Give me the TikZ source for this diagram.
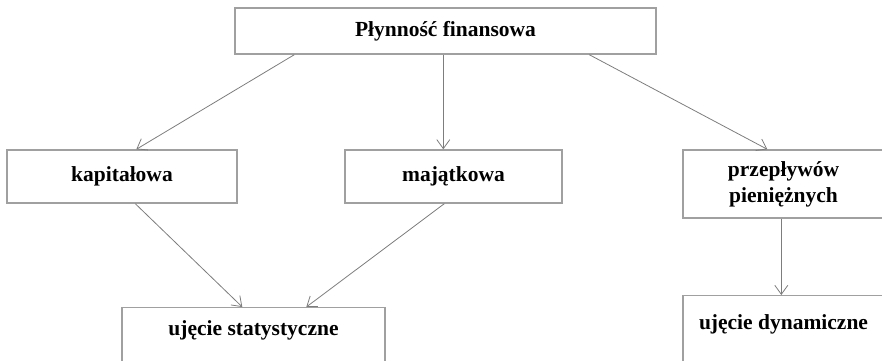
\documentclass[tikz,border=0pt]{standalone}
\usepackage{fontspec}
\setmainfont{Liberation Serif}
\usetikzlibrary{arrows.meta,positioning}
\definecolor{boxgray}{RGB}{160,160,160}
\definecolor{linkgray}{RGB}{125,125,125}

\begin{document}
\begin{tikzpicture}[
  x=1pt,y=-1pt,
  box/.style={draw=boxgray,line width=1.4pt,inner sep=0pt,
    align=center,font=\fontsize{21.5}{26}\selectfont\bfseries},
  link/.style={-{Straight Barb[length=9pt,width=13pt]},draw=linkgray,
    line width=.8pt}]
\useasboundingbox (0,0) rectangle (882,360);
\node[box,minimum width=421pt,minimum height=46pt] (plyn) at (445.5,31) {Płynność finansowa};
\node[box,minimum width=230pt,minimum height=53pt] (kapit) at (122,176.5) {kapitałowa};
\node[box,minimum width=217pt,minimum height=53pt] (majat) at (453.5,176.5) {majątkowa};
\node[box,minimum width=201pt,minimum height=68pt] (przep) at (783.5,184) {przepływów\\pieniężnych};
\node[box,minimum width=263pt,anchor=north,text height=22pt,text depth=40pt,
  inner ysep=6pt] (statyk) at (253.5,307) {ujęcie statystyczne};
\node[box,minimum width=201pt,anchor=north,text height=28pt,text depth=40pt,
  inner ysep=6pt] (dynam) at (783.5,295) {ujęcie dynamiczne};
\draw[link] ([xshift=60pt]plyn.south west) -- ([xshift=130pt]kapit.north west);
\draw[link] ([xshift=209pt]plyn.south west) -- ([xshift=99pt]majat.north west);
\draw[link] ([xshift=355pt]plyn.south west) -- ([xshift=85pt]przep.north west);
\draw[link] ([xshift=129pt]kapit.south west) -- ([xshift=121pt]statyk.north west);
\draw[link] ([xshift=100pt]majat.south west) -- ([xshift=185pt]statyk.north west);
\draw[link] ([xshift=99pt]przep.south west) -- ([xshift=99pt]dynam.north west);
\end{tikzpicture}
\end{document}
